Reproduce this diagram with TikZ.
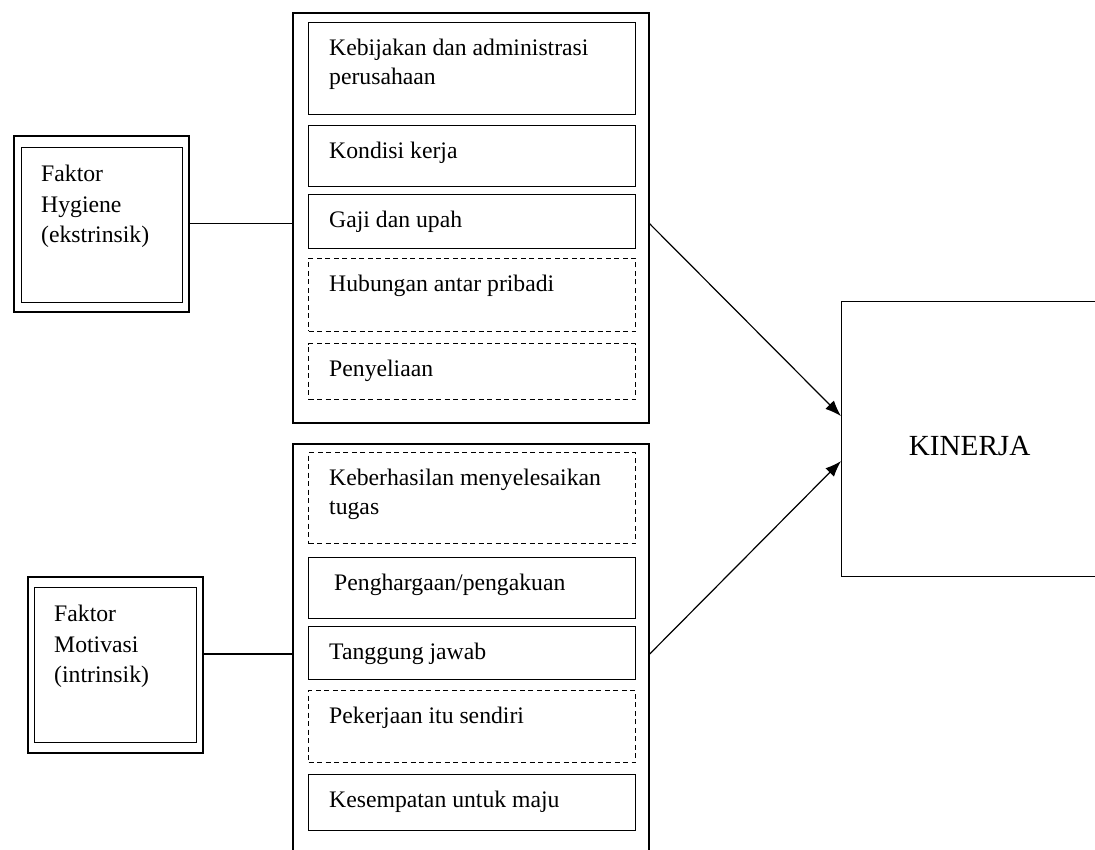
\documentclass[tikz,border=0pt]{standalone}
\usepackage{fontspec}
\setmainfont{Liberation Serif}
\usetikzlibrary{arrows.meta,positioning}
\newcommand{\itemfont}{\fontsize{23.7}{29}\selectfont}
\newcommand{\factorfont}{\fontsize{23.7}{30.5}\selectfont}

\begin{document}
\begin{tikzpicture}[x = 1pt, y = -1pt,
  groupbox/.style = {draw, line width = 1.8pt, minimum width = 356pt, anchor = north west, inner sep = 0pt},
  itembox/.style = {draw, line width = 1.2pt, minimum width = 327pt, anchor = north west, inner sep = 0pt},
  dashbox/.style = {itembox, line width = 1pt, dash pattern = on 5pt off 3.5pt},
  itemtext/.style = {anchor = north west, xshift = 21pt, yshift = -17pt, inner sep = 0pt, align = left, font = \itemfont},
  factorout/.style = {draw, line width = 1.8pt, minimum width = 175pt, minimum height = 176pt, anchor = north west, inner sep = 0pt},
  factorin/.style = {draw, line width = 1.2pt, anchor = north west, inner sep = 0pt},
  factortext/.style = {anchor = north west, xshift = 20pt, yshift = -18pt, inner sep = 0pt, align = left, font = \factorfont},
  link/.style = {line width = 1.2pt},
  arrowlink/.style = {link, -{Latex[length = 16pt, width = 12pt]}}]
\useasboundingbox (0,0) rectangle (1095,850);

\node[factorout] (hygout) at (13,135) {};
\node[factorin, minimum width = 161pt, minimum height = 155pt, label = {[factortext]north west:Faktor\\Hygiene\\(ekstrinsik)}] (hygin) at (21,147) {};

\node[factorout] (motout) at (27,576) {};
\node[factorin, minimum width = 162pt, minimum height = 155pt, label = {[factortext]north west:Faktor\\Motivasi\\(intrinsik)}] (motin) at (34,587) {};

\node[groupbox, minimum height = 410pt] (hyggrp) at (292,12) {};
\node[itembox, minimum height = 92pt, label = {[itemtext]north west:Kebijakan dan administrasi\\perusahaan}] (kebijakan) at (308,22) {};
\node[itembox, minimum height = 61pt, label = {[itemtext]north west:Kondisi kerja}] (kondisi) at (308,125) {};
\node[itembox, minimum height = 54pt, label = {[itemtext]north west:Gaji dan upah}] (gaji) at (308,194) {};
\node[dashbox, minimum height = 73pt, label = {[itemtext]north west:Hubungan antar pribadi}] (hubungan) at (308,258) {};
\node[dashbox, minimum height = 56pt, label = {[itemtext]north west:Penyeliaan}] (penyeliaan) at (308,343) {};

\node[groupbox, minimum height = 430pt] (motgrp) at (292,443) {};
\node[dashbox, minimum height = 91pt, label = {[itemtext]north west:Keberhasilan menyelesaikan\\tugas}] (keberhasilan) at (308,452) {};
\node[itembox, minimum height = 61pt, label = {[itemtext, xshift = 5pt]north west:Penghargaan/pengakuan}] (penghargaan) at (308,557) {};
\node[itembox, minimum height = 53pt, label = {[itemtext]north west:Tanggung jawab}] (tanggung) at (308,626) {};
\node[dashbox, minimum height = 72pt, label = {[itemtext]north west:Pekerjaan itu sendiri}] (pekerjaan) at (308,690) {};
\node[itembox, minimum height = 56pt, label = {[itemtext]north west:Kesempatan untuk maju}] (kesempatan) at (308,774) {};

\node[draw, line width = 1.2pt, minimum width = 256pt, minimum height = 275pt, anchor = north west, font = \fontsize{29.2}{34}\selectfont, text height = 33pt, text depth = 0pt] (kinerja) at (841,301) {KINERJA};

\draw[link] (hygout.east) -- (hygout.east -| hyggrp.west);
\draw[link] ([yshift = 11pt]motout.east) -- ([yshift = 11pt]motout.east -| motgrp.west);
\draw[arrowlink] (hygout.east -| hyggrp.east) -- ([yshift = 23pt]kinerja.west);
\draw[arrowlink] ([yshift = 11pt]motout.east -| motgrp.east) -- ([yshift = -22pt]kinerja.west);
\end{tikzpicture}
\end{document}
